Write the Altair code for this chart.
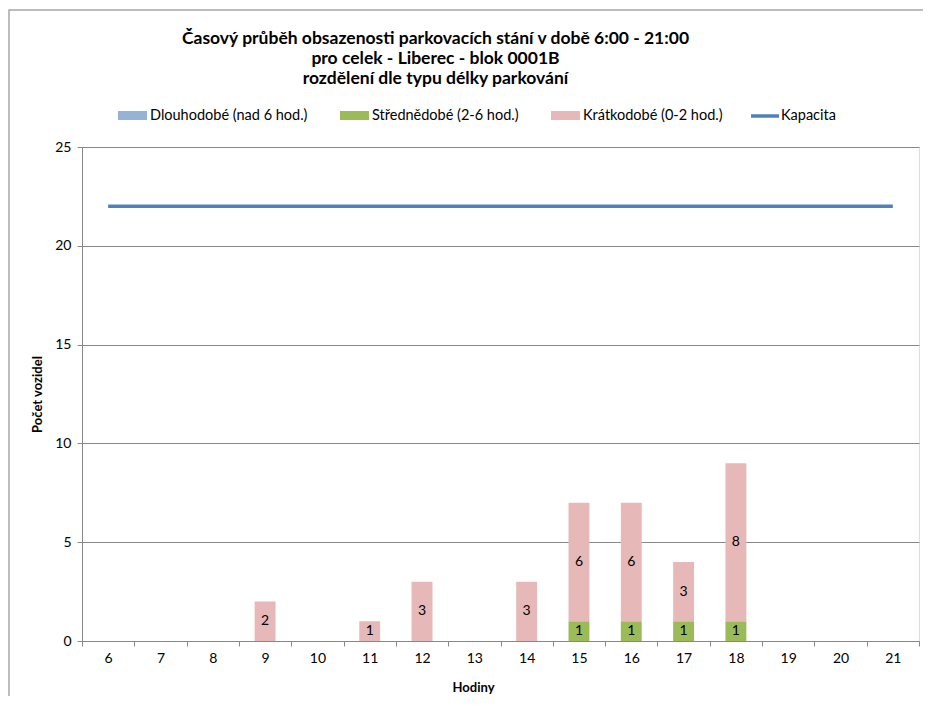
import altair as alt
import pandas as pd

hours = ["6", "7", "8", "9", "10", "11", "12", "13", "14", "15", "16", "17", "18", "19", "20", "21"]
series_names = ["Dlouhodobé (nad 6 hod.)", "Střednědobé (2-6 hod.)", "Krátkodobé (0-2 hod.)"]
series_colors = ["#95B3D7", "#9BBB59", "#E6B9B8"]
dlouhodobe = [0, 0, 0, 0, 0, 0, 0, 0, 0, 0, 0, 0, 0, 0, 0, 0]
strednedobe = [0, 0, 0, 0, 0, 0, 0, 0, 0, 1, 1, 1, 1, 0, 0, 0]
kratkodobe = [0, 0, 0, 2, 0, 1, 3, 0, 3, 6, 6, 3, 8, 0, 0, 0]
kapacita = [22, 22, 22, 22, 22, 22, 22, 22, 22, 22, 22, 22, 22, 22, 22, 22]
title_lines = [
    "Časový průběh obsazenosti parkovacích stání v době 6:00 - 21:00",
    "pro celek - Liberec - blok 0001B",
    "rozdělení dle typu délky parkování",
]

FONT = "Lato"
GRAY = "#888888"

rows = []
for i, h in enumerate(hours):
    for k, (name, vals) in enumerate(zip(series_names, [dlouhodobe, strednedobe, kratkodobe])):
        rows.append({"hour": h, "series": name, "order": k, "value": vals[i]})
df = pd.DataFrame(rows)
cap_df = pd.DataFrame({"hour": hours, "value": kapacita, "name": ["Kapacita"] * len(hours)})

x_scale = alt.Scale(domain=hours, paddingInner=0, paddingOuter=0)
x_enc = alt.X(
    "hour:O",
    sort=hours,
    scale=x_scale,
    axis=alt.Axis(
        title="Hodiny", titleFontSize=13, titleFontWeight="bold", titleFont=FONT,
        titleX=391, titleY=40, titleColor="black",
        labelAngle=0, labelFontSize=14, labelFont=FONT, labelColor="black", labelPadding=5,
        tickBand="extent", tickSize=5, tickColor=GRAY, domainColor=GRAY, grid=False,
    ),
)
y_scale = alt.Scale(domain=[0, 25], nice=False)
y_axis = alt.Axis(
    values=[0, 5, 10, 15, 20, 25], title="Počet vozidel", titleFontSize=13, titleFont=FONT,
    titleFontWeight="bold", titleColor="black", titlePadding=10,
    labelFontSize=14, labelFont=FONT, labelColor="black", labelPadding=6,
    tickSize=5, tickColor=GRAY, domainColor=GRAY, grid=True, gridColor=GRAY,
)

frame = alt.Chart(pd.DataFrame({"a": [0]})).mark_rect(
    fill=None, stroke="#A6A6A6", strokeWidth=1.5
).encode(x=alt.value(-73), x2=alt.value(1000), y=alt.value(-137), y2=alt.value(700))

bars = alt.Chart(df).mark_bar(width=alt.RelativeBandSize(0.4)).encode(
    x=x_enc,
    y=alt.Y("value:Q", stack="zero", scale=y_scale, axis=y_axis),
    color=alt.Color(
        "series:N",
        scale=alt.Scale(domain=series_names, range=series_colors),
        legend=alt.Legend(
            title=None, orient="none", direction="horizontal", legendX=36, legendY=-46,
            symbolType="M-1,-0.31H1V0.31H-1Z", symbolSize=841, symbolStrokeWidth=0,
            symbolOpacity=1, labelFontSize=14.5, labelFont=FONT, labelColor="black",
            labelOffset=3, columnPadding=32,
        ),
    ),
    order=alt.Order("order:Q"),
)

labels = alt.Chart(df).transform_filter("datum.value > 0").transform_stack(
    stack="value", groupby=["hour"], sort=[alt.SortField("order")], as_=["y0", "y1"]
).transform_calculate(mid="(datum.y0 + datum.y1) / 2").mark_text(
    fontSize=14, font=FONT, color="black", baseline="middle"
).encode(
    x=alt.X("hour:O", sort=hours, scale=x_scale),
    y=alt.Y("mid:Q", scale=y_scale),
    text=alt.Text("value:Q"),
)

line = alt.Chart(cap_df).mark_line(strokeWidth=3.5).encode(
    x=alt.X("hour:O", sort=hours, scale=x_scale),
    y=alt.Y("value:Q", scale=y_scale),
    stroke=alt.Stroke(
        "name:N",
        scale=alt.Scale(domain=["Kapacita"], range=["#4F81BD"]),
        legend=alt.Legend(
            title=None, orient="none", direction="horizontal", legendX=667, legendY=-47,
            symbolType="stroke", symbolSize=784, symbolStrokeWidth=3.5,
            labelFontSize=14.5, labelFont=FONT, labelColor="black", labelOffset=0,
        ),
    ),
)

chart = alt.layer(frame, bars, labels, line).properties(
    width=837,
    height=494,
    title=alt.TitleParams(
        text=title_lines, fontSize=17.5, fontWeight="bold", font=FONT, color="black",
        anchor="middle", frame="group", dx=-65, dy=98, offset=20, lineHeight=20,
    ),
    autosize=alt.AutoSizeParams(type="none"),
    padding={"left": 74, "top": 139, "right": 4, "bottom": 55},
).configure_view(stroke=None).configure(background="white")

chart.save("out.html", embed_options={"renderer": "svg", "actions": False})
